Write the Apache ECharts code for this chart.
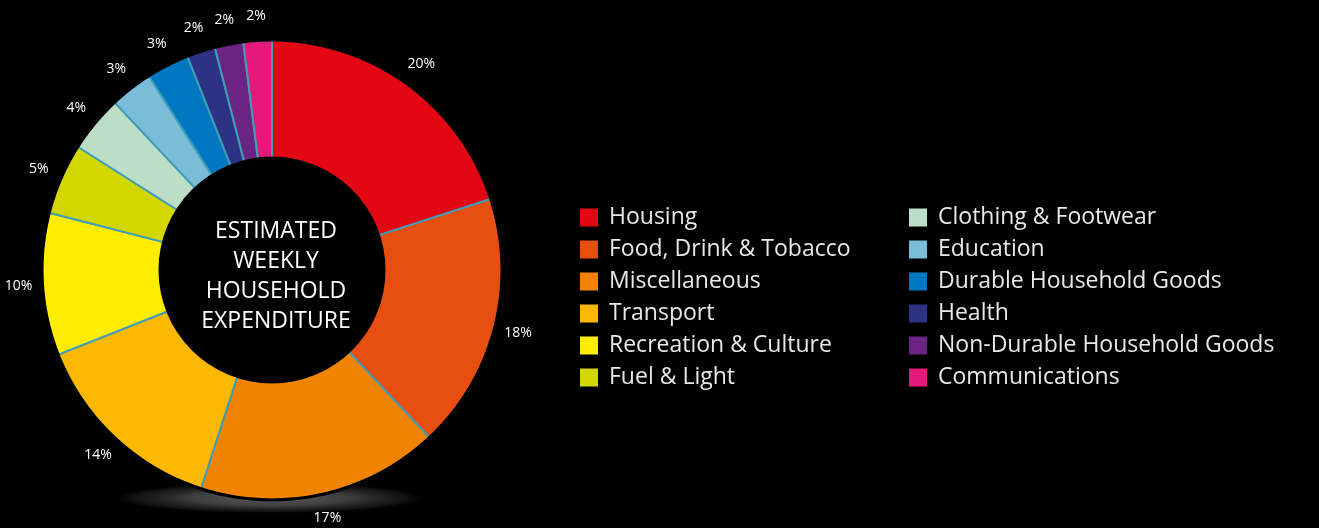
<!DOCTYPE html>
<html>
<head>
<meta charset="utf-8">
<script src="https://cdn.jsdelivr.net/npm/echarts@6/dist/echarts.min.js"></script>
<style>
html,body{margin:0;padding:0;background:#000;}
#chart{width:1319px;height:528px;}
</style>
</head>
<body>
<div id="chart"></div>
<script>
const categories = ['Housing','Food, Drink & Tobacco','Miscellaneous','Transport','Recreation & Culture','Fuel & Light','Clothing & Footwear','Education','Durable Household Goods','Health','Non-Durable Household Goods','Communications'];
const values = [20,18,17,14,10,5,4,3,3,2,2,2];
const colors = ['#e30613','#e84e0f','#f08400','#fbb800','#ffed00','#d2d700','#bcdec7','#7bbdd8','#0077c0','#2d3284','#6a2483','#e5197a'];
const centerTitle = 'ESTIMATED\nWEEKLY\nHOUSEHOLD\nEXPENDITURE';

const FONT = '"Open Sans", Lato, sans-serif';
const data = categories.map((c,i)=>({name:c, value:values[i], itemStyle:{color:colors[i]}}));

const legendBase = {orient:'vertical', top:201, itemWidth:18, itemHeight:18, itemGap:9, icon:'rect',
  itemStyle:{borderWidth:0}, selectedMode:false,
  textStyle:{color:'#e8e8e8', fontSize:23, fontFamily:FONT, padding:[0,0,0,6]}};

const chart = echarts.init(document.getElementById('chart'), null, {renderer:'canvas'});
chart.setOption({
  backgroundColor:'#000',
  animation:false,
  title:{
    text:centerTitle, left:271, top:211, textAlign:'center',
    textStyle:{color:'#ffffff', fontSize:23, fontWeight:'normal', lineHeight:30, fontFamily:FONT}
  },
  legend:[
    Object.assign({}, legendBase, {data:categories.slice(0,6), left:575}),
    Object.assign({}, legendBase, {data:categories.slice(6), left:904})
  ],
  graphic:[{
    type:'circle', z:-10, silent:true,
    x:270, y:498, scaleY:0.1,
    shape:{cx:0, cy:0, r:160},
    style:{fill:{type:'radial', x:0.5, y:0.5, r:0.5, colorStops:[{offset:0,color:'rgba(90,90,90,1)'},{offset:0.5,color:'rgba(65,65,65,0.95)'},{offset:0.85,color:'rgba(30,30,30,0.6)'},{offset:1,color:'rgba(0,0,0,0)'}]}}
  }],
  series:[
    {type:'pie', center:[272,270], radius:[112,230], startAngle:90, clockwise:true, z:2,
     silent:true, label:{show:false}, labelLine:{show:false},
     itemStyle:{borderColor:'#3f9db6', borderWidth:2},
     data:data},
    {type:'pie', center:[272,270], radius:[228.5,231.5], z:3, silent:true, label:{show:false}, labelLine:{show:false},
     itemStyle:{color:'#000', borderWidth:0}, data:[{value:1, name:'_mask'}], legendHoverLink:false},
    {type:'pie', center:[272,270], radius:[0,113.5], z:3, silent:true, label:{show:false}, labelLine:{show:false},
     itemStyle:{color:'#000', borderWidth:0}, data:[{value:1, name:'_mask2'}], legendHoverLink:false},
    {type:'pie', center:[272,270], radius:[240,262], startAngle:90, clockwise:true, z:4, silent:true,
     itemStyle:{color:'rgba(0,0,0,0)', borderWidth:0}, labelLine:{show:false},
     label:{show:true, position:'inside', formatter:'{c}%', color:'#ffffff', fontSize:14, fontFamily:FONT},
     data:categories.map((c,i)=>({name:c, value:values[i]})), legendHoverLink:false}
  ]
});
</script>
</body>
</html>
